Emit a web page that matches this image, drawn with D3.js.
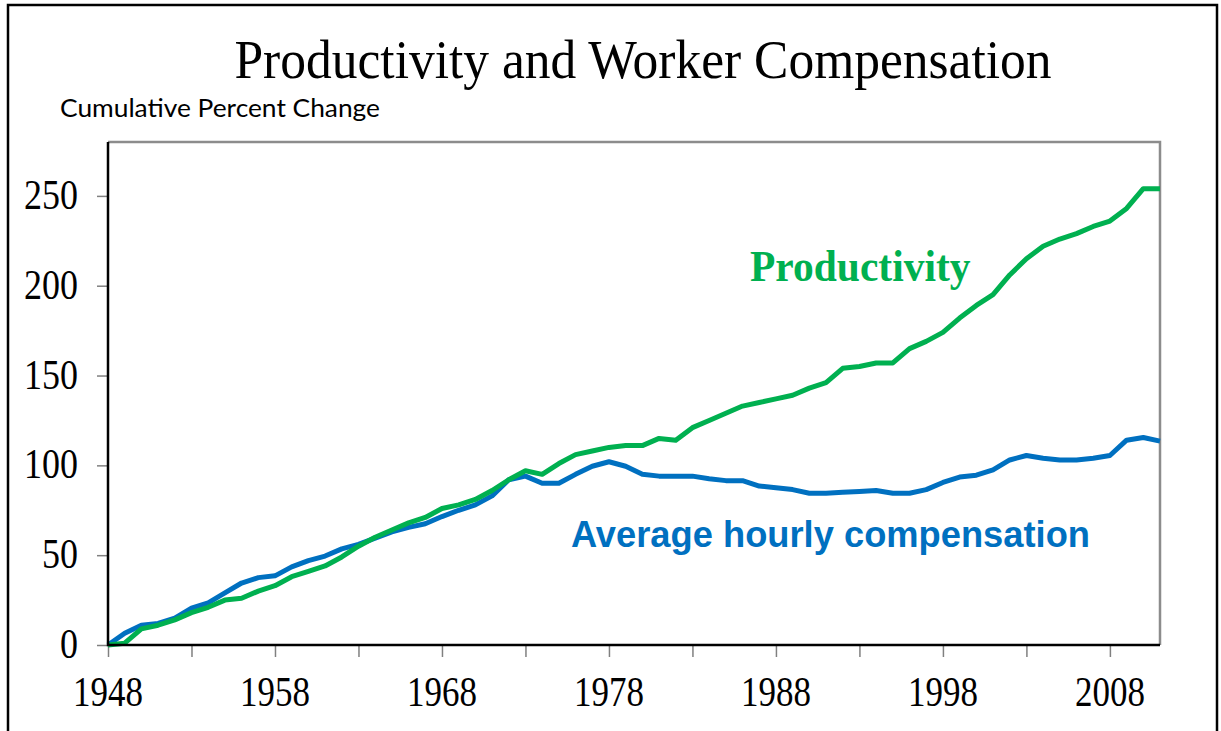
<!DOCTYPE html>
<html><head><meta charset="utf-8">
<script src="https://cdn.jsdelivr.net/npm/d3@7"></script>
<style>body{margin:0;background:#fff}svg{display:block}</style>
</head><body>
<svg id="chart" width="1221" height="731"></svg>
<script>
const years = d3.range(1948, 2012);
const productivity = [0,1,9,11,14,18,21,25,26,30,33,38,41,44,49,55,60,64,68,71,76,78,81,86,92,97,95,101,106,108,110,111,111,115,114,121,125,129,133,135,137,139,143,146,154,155,157,157,165,169,174,182,189,195,206,215,222,226,229,233,236,243,254,254];
const compensation = [0,6.5,11,12,15,20.5,23.5,29,34.5,37.5,38.5,43.5,47,49.5,53.5,56,59.5,63,65.5,67.5,71.5,75,78,83,92,94,90,90,95,99.5,102,99.5,95,94,94,94,92.5,91.5,91.5,88.5,87.5,86.5,84.5,84.5,85,85.5,86,84.5,84.5,86.5,90.5,93.5,94.5,97.5,103,105.5,104,103,103,104,105.5,114,115.5,113.5];
const xTickValues = d3.range(1948, 2012, 5);
const xLabelValues = [1948, 1958, 1968, 1978, 1988, 1998, 2008];
const yTickValues = [0, 50, 100, 150, 200, 250];

const svg = d3.select("#chart");
const L = 108, R = 1160, T = 142, B = 645;
const x = d3.scaleLinear().domain([1948, 2011]).range([L, R]);
const y = d3.scaleLinear().domain([0, 280]).range([B, T]);
const serif = "Liberation Serif, Times New Roman, serif";

// outer frame
svg.append("rect").attr("x", 8).attr("y", 5).attr("width", 1209).attr("height", 740)
  .attr("fill", "none").attr("stroke", "#000").attr("stroke-width", 2.5);

// title
svg.append("text").attr("transform", "translate(643,78) scale(1,1.06)").attr("text-anchor", "middle")
  .attr("font-family", serif).attr("font-size", 51.5)
  .text("Productivity and Worker Compensation");
svg.append("text").attr("transform", "translate(60,117) scale(1,1.1)")
  .attr("font-family", "Lato, sans-serif").attr("font-size", 22)
  .attr("textLength", 320).attr("lengthAdjust", "spacingAndGlyphs")
  .text("Cumulative Percent Change");

// plot frame top/right gray
svg.append("path").attr("d", `M${L},${T}H${R}V${B}`).attr("fill", "none")
  .attr("stroke", "#8c8c8c").attr("stroke-width", 2.5);

// axes
const xAxis = d3.axisBottom(x).tickValues(xTickValues).tickSize(12).tickFormat("");
const gx = svg.append("g").attr("transform", `translate(0,${B})`).call(xAxis);
gx.select(".domain").remove();
gx.selectAll(".tick line").attr("stroke", "#808080").attr("stroke-width", 1.5);

const yAxis = d3.axisLeft(y).tickValues(yTickValues).tickSize(11).tickFormat("");
const gy = svg.append("g").attr("transform", `translate(${L},0)`).call(yAxis);
gy.select(".domain").remove();
gy.selectAll(".tick line").attr("stroke", "#808080").attr("stroke-width", 1.5);

svg.selectAll(".xlab").data(xLabelValues).enter().append("text")
  .attr("transform", d => `translate(${x(d)},706) scale(1,1.22)`).attr("text-anchor", "middle")
  .attr("font-family", serif).attr("font-size", 35)
  .text(d => d);
svg.selectAll(".ylab").data(yTickValues).enter().append("text")
  .attr("transform", d => `translate(78,${y(d) + 13}) scale(1,1.2)`).attr("text-anchor", "end")
  .attr("font-family", serif).attr("font-size", 36)
  .text(d => d);

// lines
const line = d3.line().x((d, i) => x(years[i])).y(d => y(d));
svg.append("path").datum(compensation).attr("d", line).attr("fill", "none")
  .attr("stroke", "#0070C0").attr("stroke-width", 5).attr("stroke-linejoin", "round");
svg.append("path").datum(productivity).attr("d", line).attr("fill", "none")
  .attr("stroke", "#00B050").attr("stroke-width", 5).attr("stroke-linejoin", "round");

// left & bottom axis lines
svg.append("path").attr("d", `M${L},${T}V${B}H${R}`).attr("fill", "none")
  .attr("stroke", "#000").attr("stroke-width", 2.5);

// series labels
svg.append("text").attr("transform", "translate(750,281) scale(1,1.08)")
  .attr("font-family", serif).attr("font-weight", "bold")
  .attr("font-size", 41.5).attr("fill", "#00B050").text("Productivity");
svg.append("text").attr("transform", "translate(571,547) scale(1,1.05)")
  .attr("font-family", "Liberation Sans, Arial, sans-serif").attr("font-weight", "bold")
  .attr("font-size", 36).attr("fill", "#0070C0").attr("textLength", 519).attr("lengthAdjust", "spacingAndGlyphs")
  .text("Average hourly compensation");
</script>
</body></html>
